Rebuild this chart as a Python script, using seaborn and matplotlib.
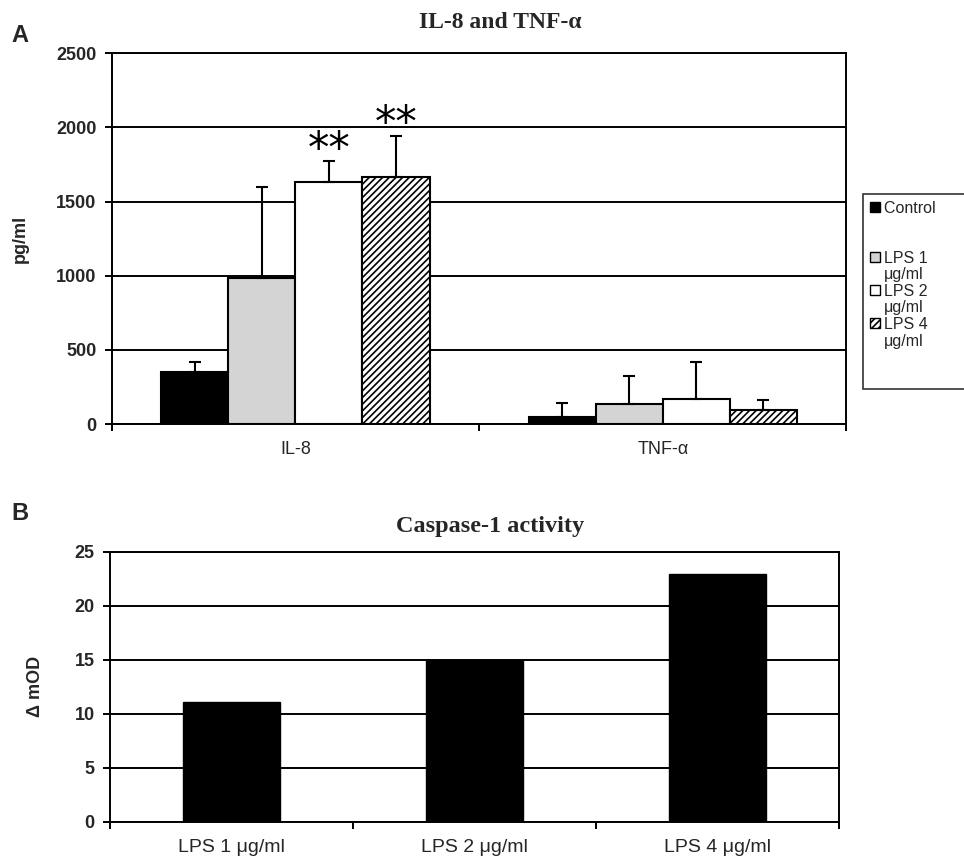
import matplotlib
matplotlib.use("Agg")
import matplotlib.pyplot as plt
import matplotlib.patches as mpatches
from matplotlib.container import BarContainer
import seaborn as sns
import pandas as pd
import numpy as np

# ---- data ----
cytokines = ["IL-8", "TNF-α"]
conditions = ["Control", "LPS 1 μg/ml", "LPS 2 μg/ml", "LPS 4 μg/ml"]
legend_first = ["Control", "LPS 1", "LPS 2", "LPS 4"]
legend_second = [None, "μg/ml", "μg/ml", "μg/ml"]
il8_values = [350, 985, 1630, 1665]
il8_errors = [70, 610, 140, 275]
tnf_values = [50, 135, 172, 95]
tnf_errors = [90, 190, 248, 67]
significant_il8 = [False, False, True, True]

caspase_labels = ["LPS 1 μg/ml", "LPS 2 μg/ml", "LPS 4 μg/ml"]
caspase_values = [11.1, 15.0, 23.0]

panelA_yticks = [0, 500, 1000, 1500, 2000, 2500]
panelB_yticks = [0, 5, 10, 15, 20, 25]

colors = ["black", "#d4d4d4", "white", "white"]
hatches = [None, None, None, "/////"]

sns.set_theme(style="white")
plt.rcParams["font.family"] = ["Liberation Sans", "DejaVu Sans"]
plt.rcParams["hatch.linewidth"] = 1.2

fig = plt.figure(figsize=(9.64, 8.57), dpi=100)
axA = fig.add_axes([0.116, 0.505, 0.762, 0.433])
axB = fig.add_axes([0.114, 0.041, 0.756, 0.315])

# ---- panel A ----
rows = []
for i, c in enumerate(conditions):
    rows.append({"cytokine": cytokines[0], "condition": c, "value": il8_values[i]})
    rows.append({"cytokine": cytokines[1], "condition": c, "value": tnf_values[i]})
dfA = pd.DataFrame(rows)

sns.barplot(data=dfA, x="cytokine", y="value", hue="condition", order=cytokines,
            hue_order=conditions, palette=colors, width=0.73, edgecolor="black",
            linewidth=1.5, errorbar=None, ax=axA, legend=False, saturation=1)

errs = {cytokines[0]: il8_errors, cytokines[1]: tnf_errors}
bar_containers = [c for c in axA.containers if isinstance(c, BarContainer)]
for ci, cont in enumerate(bar_containers):
    for bi, patch in enumerate(cont.patches):
        patch.set_facecolor(colors[ci])
        patch.set_edgecolor("black")
        if hatches[ci]:
            patch.set_hatch(hatches[ci])
        xc = patch.get_x() + patch.get_width() / 2
        h = patch.get_height()
        e = errs[cytokines[bi]][ci]
        axA.errorbar([xc], [h], yerr=[[0], [e]], fmt="none", ecolor="black",
                     elinewidth=1.5, capsize=4, capthick=1.5, zorder=3)
        if bi == 0 and significant_il8[ci]:
            axA.text(xc, h + e + 80, "**", ha="center", va="center",
                     fontsize=31, family="DejaVu Sans", color="black")

axA.set_ylim(0, 2500)
axA.set_yticks(panelA_yticks)
axA.set_xlim(-0.5, 1.5)
axA.grid(axis="y", color="black", linewidth=1.4)
axA.set_axisbelow(True)
for s in axA.spines.values():
    s.set_color("black")
    s.set_linewidth(1.4)
axA.tick_params(axis="y", which="major", length=5, width=1.4, color="black", direction="out",
                left=True, labelsize=13, pad=6)
for lab in axA.get_yticklabels():
    lab.set_fontweight("bold")
axA.set_xticks([0, 1])
axA.set_xticklabels(cytokines)
axA.set_xticks([-0.5, 0.5, 1.5], minor=True)
axA.tick_params(axis="x", which="major", length=0, labelsize=13, pad=12)
axA.tick_params(axis="x", which="minor", length=5, width=1.4, color="black", direction="out", bottom=True)
axA.set_xlabel("")
axA.set_ylabel("pg/ml", fontsize=13, fontweight="bold", labelpad=20)
axA.set_title("IL-8 and TNF-α", family=["Liberation Serif", "DejaVu Serif"], fontweight="bold",
              fontsize=17, pad=18, x=0.529)
fig.text(0.012, 0.959, "A", fontsize=17, fontweight="bold", va="center", ha="left")

# legend
def blank():
    return mpatches.Patch(facecolor="none", edgecolor="none", label=" ")

handles = []
for i, lab in enumerate(legend_first):
    handles.append(mpatches.Patch(facecolor=colors[i], edgecolor="black", linewidth=1.0,
                                  hatch=hatches[i], label=lab + ("        " if i == 0 else "")))
    if legend_second[i] is None:
        handles += [blank(), blank()]
    else:
        handles.append(mpatches.Patch(facecolor="none", edgecolor="none", label=legend_second[i]))
handles += [blank(), blank()]
leg = fig.legend(handles=handles, loc="upper left", bbox_to_anchor=(0.895, 0.774),
                 frameon=True, fancybox=False, edgecolor="black", fontsize=11.5,
                 handlelength=0.6, handleheight=0.6, handletextpad=0.25,
                 labelspacing=0.1, borderpad=0.45, borderaxespad=0)
leg.get_frame().set_linewidth(1.2)

# ---- panel B ----
dfB = pd.DataFrame({"label": caspase_labels, "value": caspase_values})
sns.barplot(data=dfB, x="label", y="value", order=caspase_labels, color="black",
            width=0.4, errorbar=None, ax=axB, saturation=1, edgecolor="black")
axB.set_ylim(0, 25)
axB.set_yticks(panelB_yticks)
axB.set_xlim(-0.5, 2.5)
axB.grid(axis="y", color="black", linewidth=1.4)
axB.set_axisbelow(True)
for s in axB.spines.values():
    s.set_color("black")
    s.set_linewidth(1.4)
axB.tick_params(axis="y", which="major", length=5, width=1.4, color="black", direction="out",
                left=True, labelsize=13, pad=6)
for lab in axB.get_yticklabels():
    lab.set_fontweight("bold")
axB.set_xticks([0, 1, 2])
axB.set_xticklabels(caspase_labels)
axB.set_xticks([-0.5, 0.5, 1.5, 2.5], minor=True)
axB.tick_params(axis="x", which="major", length=0, labelsize=14, pad=12)
axB.tick_params(axis="x", which="minor", length=5, width=1.4, color="black", direction="out", bottom=True)
axB.set_xlabel("")
axB.set_ylabel("Δ mOD", fontsize=13, fontweight="bold", labelpad=22)
axB.set_title("Caspase-1 activity", family=["Liberation Serif", "DejaVu Serif"], fontweight="bold",
              fontsize=17.5, pad=14, x=0.521)
fig.text(0.012, 0.401, "B", fontsize=17, fontweight="bold", va="center", ha="left")

fig.savefig("out.png", dpi=100)
